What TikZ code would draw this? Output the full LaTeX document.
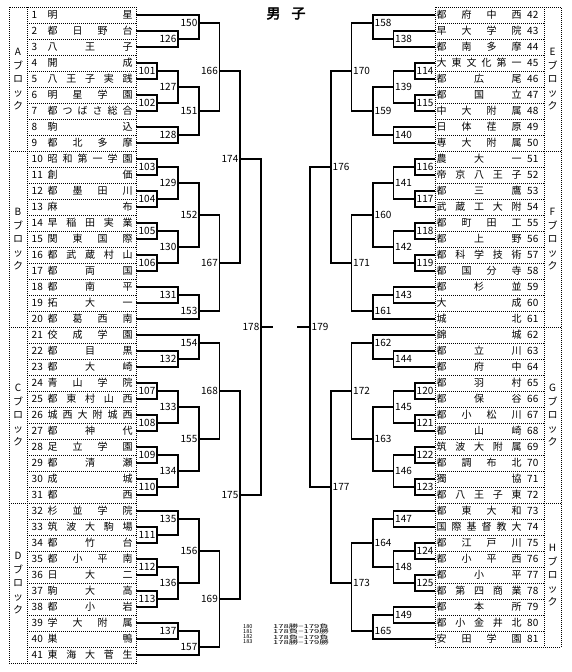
\documentclass[tikz,border=0pt]{standalone}
\usepackage{fontspec}
\usepackage{graphicx}
\setmainfont{Noto Sans CJK JP}
\newfontfamily\cjkbold[FakeBold=2.5]{Noto Sans CJK JP}
\tikzset{
  br/.style={line width=1.1pt},
  dotl/.style={line width=0.8pt, dash pattern=on 1pt off 1pt},
  nm/.style={inner sep=0pt, text height=7.6pt, text depth=0pt, font=\fontsize{10}{12}\selectfont},
  lab/.style={inner sep=0pt, text height=7.4pt, text depth=0pt, font=\fontsize{10}{12}\selectfont},
  ttl/.style={inner sep=0pt, font=\fontsize{14}{16}\cjkbold},
  small/.style={inner sep=0pt, anchor=west, font=\fontsize{9}{10}\selectfont},
}
% left row: index, count, chars
\newcommand\RL[3]{%
  \coordinate (r#1) at (136,{16*#1-1});
  \node[lab,anchor=west] (nn#1) at (31.5,{16*#1-1}) {#1};
  \foreach \ch [count=\k] in {#3} {%
    \pgfmathsetmacro\xx{52.5+(\k-1)*75/(#2-1)}
    \node[nm] (n#1-\k) at (\xx,{16*#1-1}) {\ch};
  }}
% right row
\newcommand\RR[3]{%
  \pgfmathtruncatemacro\jj{#1-41}
  \coordinate (r#1) at (435,{16*\jj-1});
  \node[lab,anchor=west] (nn#1) at (527,{16*\jj-1}) {#1};
  \foreach \ch [count=\k] in {#3} {%
    \pgfmathsetmacro\xx{441.5+(\k-1)*75/(#2-1)}
    \node[nm] (n#1-\k) at (\xx,{16*\jj-1}) {\ch};
  }}
% games: name, x, grid, input a, input b
\newcommand\GL[5]{%
  \coordinate (g#1) at (#2,{8*#3-1});
  \draw[br] (#4) -| (g#1);
  \draw[br] (#5) -| (g#1);
  \node[lab,anchor=east] (t#1) at ([xshift=-1.5pt]g#1) {#1};}
\newcommand\GR[5]{%
  \coordinate (g#1) at (#2,{8*#3-1});
  \draw[br] (#4) -| (g#1);
  \draw[br] (#5) -| (g#1);
  \node[lab,anchor=west] (t#1) at ([xshift=1.5pt]g#1) {#1};}
% block label: x, center y, letter, id
\newcommand\BLK[4]{%
  \node[nm] (b#4-1) at (#1,{#2-27}) {#3};
  \node[nm] (b#4-2) at (#1,{#2-13.5}) {ブ};
  \node[nm] (b#4-3) at (#1,{#2}) {ロ};
  \node[nm] (b#4-4) at (#1,{#2+13.5}) {ッ};
  \node[nm] (b#4-5) at (#1,{#2+27}) {ク};}
\begin{document}
\begin{tikzpicture}[x=1pt,y=-1pt]
\useasboundingbox (0,0) rectangle (572,672);
\fill[white] (0,0) rectangle (572,672);
% title
\node[ttl] (title1) at (273.5,13.5) {男};
\node[ttl] (title2) at (298.5,13.5) {子};
% dotted boxes left
\draw[dotl] (9,7) rectangle (136,663);
\draw[dotl] (27,7) -- (27,663);
\foreach \i in {1,...,40} { \draw[dotl] (27,{16*\i+7}) -- (136,{16*\i+7}); }
\foreach \i in {9,20,31} { \draw[dotl] (9,{16*\i+7}) -- (27,{16*\i+7}); }
% dotted boxes right
\draw[dotl] (435,7) rectangle (561,647);
\draw[dotl] (544,7) -- (544,647);
\foreach \i in {1,...,39} { \draw[dotl] (435,{16*\i+7}) -- (544,{16*\i+7}); }
\foreach \i in {9,20,31} { \draw[dotl] (544,{16*\i+7}) -- (561,{16*\i+7}); }
% block labels
\BLK{18}{79}{A}{a}
\BLK{18}{239}{B}{b}
\BLK{18}{415}{C}{c}
\BLK{18}{583}{D}{d}
\BLK{552.5}{79}{E}{e}
\BLK{552.5}{239}{F}{f}
\BLK{552.5}{415}{G}{g}
\BLK{552.5}{575}{H}{h}
% left rows
\RL{1}{2}{明,星}
\RL{2}{4}{都,日,野,台}
\RL{3}{3}{八,王,子}
\RL{4}{2}{開,成}
\RL{5}{5}{八,王,子,実,践}
\RL{6}{4}{明,星,学,園}
\RL{7}{6}{都,つ,ば,さ,総,合}
\RL{8}{2}{駒,込}
\RL{9}{4}{都,北,多,摩}
\RL{10}{6}{昭,和,第,一,学,園}
\RL{11}{2}{創,価}
\RL{12}{4}{都,墨,田,川}
\RL{13}{2}{麻,布}
\RL{14}{5}{早,稲,田,実,業}
\RL{15}{4}{関,東,国,際}
\RL{16}{5}{都,武,蔵,村,山}
\RL{17}{3}{都,両,国}
\RL{18}{3}{都,南,平}
\RL{19}{3}{拓,大,一}
\RL{20}{4}{都,葛,西,南}
\RL{21}{4}{佼,成,学,園}
\RL{22}{3}{都,目,黒}
\RL{23}{3}{都,大,崎}
\RL{24}{4}{青,山,学,院}
\RL{25}{5}{都,東,村,山,西}
\RL{26}{6}{城,西,大,附,城,西}
\RL{27}{3}{都,神,代}
\RL{28}{4}{足,立,学,園}
\RL{29}{3}{都,清,瀬}
\RL{30}{2}{成,城}
\RL{31}{2}{都,西}
\RL{32}{4}{杉,並,学,院}
\RL{33}{5}{筑,波,大,駒,場}
\RL{34}{3}{都,竹,台}
\RL{35}{4}{都,小,平,南}
\RL{36}{3}{日,大,二}
\RL{37}{3}{駒,大,高}
\RL{38}{3}{都,小,岩}
\RL{39}{4}{学,大,附,属}
\RL{40}{2}{巣,鴨}
\RL{41}{5}{東,海,大,菅,生}
% right rows
\RR{42}{4}{都,府,中,西}
\RR{43}{4}{早,大,学,院}
\RR{44}{4}{都,南,多,摩}
\RR{45}{6}{大,東,文,化,第,一}
\RR{46}{3}{都,広,尾}
\RR{47}{3}{都,国,立}
\RR{48}{4}{中,大,附,属}
\RR{49}{4}{日,体,荏,原}
\RR{50}{4}{専,大,附,属}
\RR{51}{3}{農,大,一}
\RR{52}{5}{帝,京,八,王,子}
\RR{53}{3}{都,三,鷹}
\RR{54}{5}{武,蔵,工,大,附}
\RR{55}{4}{都,町,田,工}
\RR{56}{3}{都,上,野}
\RR{57}{5}{都,科,学,技,術}
\RR{58}{4}{都,国,分,寺}
\RR{59}{3}{都,杉,並}
\RR{60}{2}{大,成}
\RR{61}{2}{城,北}
\RR{62}{2}{錦,城}
\RR{63}{3}{都,立,川}
\RR{64}{3}{都,府,中}
\RR{65}{3}{都,羽,村}
\RR{66}{3}{都,保,谷}
\RR{67}{4}{都,小,松,川}
\RR{68}{3}{都,山,崎}
\RR{69}{5}{筑,波,大,附,属}
\RR{70}{4}{都,調,布,北}
\RR{71}{2}{獨,協}
\RR{72}{5}{都,八,王,子,東}
\RR{73}{4}{都,東,大,和}
\RR{74}{6}{国,際,基,督,教,大}
\RR{75}{4}{都,江,戸,川}
\RR{76}{4}{都,小,平,西}
\RR{77}{3}{都,小,平}
\RR{78}{5}{都,第,四,商,業}
\RR{79}{3}{都,本,所}
\RR{80}{5}{都,小,金,井,北}
\RR{81}{4}{安,田,学,園}
% left bracket
\GL{126}{178}{5}{r2}{r3}
\GL{150}{199}{3}{r1}{g126}
\GL{101}{157}{9}{r4}{r5}
\GL{102}{157}{13}{r6}{r7}
\GL{127}{178}{11}{g101}{g102}
\GL{128}{178}{17}{r8}{r9}
\GL{151}{199}{14}{g127}{g128}
\GL{166}{219.5}{9}{g150}{g151}
\GL{103}{157}{21}{r10}{r11}
\GL{104}{157}{25}{r12}{r13}
\GL{129}{178}{23}{g103}{g104}
\GL{105}{157}{29}{r14}{r15}
\GL{106}{157}{33}{r16}{r17}
\GL{130}{178}{31}{g105}{g106}
\GL{152}{199}{27}{g129}{g130}
\GL{131}{178}{37}{r18}{r19}
\GL{153}{199}{39}{g131}{r20}
\GL{167}{219.5}{33}{g152}{g153}
\GL{174}{240}{20}{g166}{g167}
\GL{132}{178}{45}{r22}{r23}
\GL{154}{199}{43}{r21}{g132}
\GL{107}{157}{49}{r24}{r25}
\GL{108}{157}{53}{r26}{r27}
\GL{133}{178}{51}{g107}{g108}
\GL{109}{157}{57}{r28}{r29}
\GL{110}{157}{61}{r30}{r31}
\GL{134}{178}{59}{g109}{g110}
\GL{155}{199}{55}{g133}{g134}
\GL{168}{219.5}{49}{g154}{g155}
\GL{111}{157}{67}{r33}{r34}
\GL{135}{178}{65}{r32}{g111}
\GL{112}{157}{71}{r35}{r36}
\GL{113}{157}{75}{r37}{r38}
\GL{136}{178}{73}{g112}{g113}
\GL{156}{199}{69}{g135}{g136}
\GL{137}{178}{79}{r39}{r40}
\GL{157}{199}{81}{g137}{r41}
\GL{169}{219.5}{75}{g156}{g157}
\GL{175}{240}{62}{g168}{g169}
\GL{178}{261}{41}{g174}{g175}
% right bracket
\GR{138}{393.5}{5}{r43}{r44}
\GR{158}{373}{3}{r42}{g138}
\GR{114}{415}{9}{r45}{r46}
\GR{115}{415}{13}{r47}{r48}
\GR{139}{393.5}{11}{g114}{g115}
\GR{140}{393.5}{17}{r49}{r50}
\GR{159}{373}{14}{g139}{g140}
\GR{170}{351.5}{9}{g158}{g159}
\GR{116}{415}{21}{r51}{r52}
\GR{117}{415}{25}{r53}{r54}
\GR{141}{393.5}{23}{g116}{g117}
\GR{118}{415}{29}{r55}{r56}
\GR{119}{415}{33}{r57}{r58}
\GR{142}{393.5}{31}{g118}{g119}
\GR{160}{373}{27}{g141}{g142}
\GR{143}{393.5}{37}{r59}{r60}
\GR{161}{373}{39}{g143}{r61}
\GR{171}{351.5}{33}{g160}{g161}
\GR{176}{331}{21}{g170}{g171}
\GR{144}{393.5}{45}{r63}{r64}
\GR{162}{373}{43}{r62}{g144}
\GR{120}{415}{49}{r65}{r66}
\GR{121}{415}{53}{r67}{r68}
\GR{145}{393.5}{51}{g120}{g121}
\GR{122}{415}{57}{r69}{r70}
\GR{123}{415}{61}{r71}{r72}
\GR{146}{393.5}{59}{g122}{g123}
\GR{163}{373}{55}{g145}{g146}
\GR{172}{351.5}{49}{g162}{g163}
\GR{147}{393.5}{65}{r73}{r74}
\GR{124}{415}{69}{r75}{r76}
\GR{125}{415}{73}{r77}{r78}
\GR{148}{393.5}{71}{g124}{g125}
\GR{164}{373}{68}{g147}{g148}
\GR{149}{393.5}{77}{r79}{r80}
\GR{165}{373}{79}{g149}{r81}
\GR{173}{351.5}{73}{g164}{g165}
\GR{177}{331}{61}{g172}{g173}
\GR{179}{310}{41}{g176}{g177}
% final stubs
\coordinate (e178) at (273,327);
\coordinate (e179) at (297,327);
\draw[br] (g178) -- (e178);
\draw[br] (e179) -- (g179);
% bottom notes
\node[small] (f1a) at (243,626.5) {\scalebox{0.62}[0.6]{180}};
\node[small] (f2a) at (243,631.5) {\scalebox{0.62}[0.6]{181}};
\node[small] (f3a) at (243,637) {\scalebox{0.62}[0.6]{182}};
\node[small] (f4a) at (243,642) {\scalebox{0.62}[0.6]{183}};
\node[small] (f1b) at (273,626.5) {\scalebox{1.05}[0.6]{178勝−179負}};
\node[small] (f2b) at (273,631.5) {\scalebox{1.05}[0.6]{178負−179勝}};
\node[small] (f3b) at (273,637) {\scalebox{1.05}[0.6]{178負−179負}};
\node[small] (f4b) at (273,642) {\scalebox{1.05}[0.6]{178勝−179勝}};
\end{tikzpicture}
\end{document}
